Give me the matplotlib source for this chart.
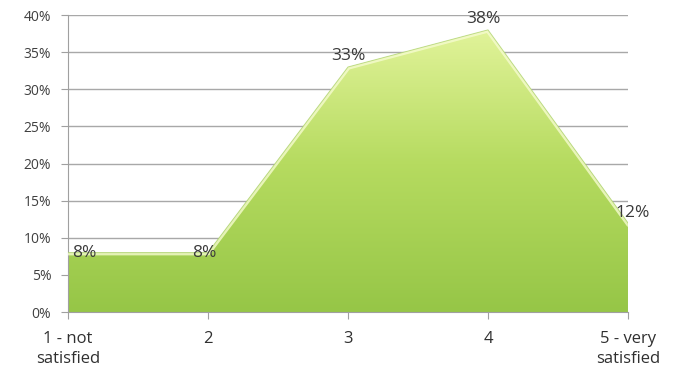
import numpy as np
import matplotlib
matplotlib.use("Agg")
import matplotlib.pyplot as plt
import matplotlib.ticker as mticker
from matplotlib.colors import LinearSegmentedColormap

categories = ["1 - not\nsatisfied", "2", "3", "4", "5 - very\nsatisfied"]
values = [8, 8, 33, 38, 12]
labels = ["8%", "8%", "33%", "38%", "12%"]

plt.rcParams["font.family"] = ["Open Sans", "DejaVu Sans"]

fig = plt.figure(figsize=(6.84, 3.85), dpi=100)
ax = fig.add_axes([0.0994, 0.1896, 0.8187, 0.7714])

x = np.arange(len(values))
poly = ax.fill_between(x, 0, values, color="none", lw=0)

# vertical gradient clipped to the area
cmap = LinearSegmentedColormap.from_list("g", ["#96c647", "#b6db60", "#e6f6a0"])
grad = np.linspace(0, 1, 256).reshape(-1, 1)
img = ax.imshow(grad, cmap=cmap, origin="lower", aspect="auto",
                extent=[0, 4, 0, 40], zorder=2)
img.set_clip_path(poly.get_paths()[0], transform=ax.transData)
hl, = ax.plot(x, values, color="#f6fcd0", lw=4, zorder=3, alpha=0.8)
hl.set_clip_path(poly.get_paths()[0], transform=ax.transData)
ax.plot(x, values, color="#a9cf6a", lw=0.7, zorder=3, alpha=0.7)
ax.plot([4, 4], [0, values[-1]], color="#8fb070", lw=0.8, zorder=3)

ax.set_xlim(0, 4)
ax.set_ylim(0, 40)
ax.yaxis.set_major_locator(mticker.MultipleLocator(5))
ax.yaxis.set_major_formatter(mticker.FuncFormatter(lambda v, p: f"{v:.0f}%"))
ax.set_xticks(x)
ax.set_xticklabels(categories, fontsize=12, color="#303030", linespacing=1.3)
ax.tick_params(axis="y", labelsize=10, labelcolor="#404040", color="#a0a0a0",
               length=5, pad=7)
ax.tick_params(axis="x", color="#a0a0a0", length=5, pad=9)

ax.grid(axis="y", color="#a8a8a8", lw=1)
ax.set_axisbelow(True)
for s in ["top", "right"]:
    ax.spines[s].set_visible(False)
ax.spines["left"].set_color("#a0a0a0")
ax.spines["bottom"].set_color("#a0a0a0")

offsets = [(3, 0), (-3, 0), (0, 8), (-3, 8), (3, 7)]
for i, (v, t) in enumerate(zip(values, labels)):
    ha = "left" if i == 0 else "center"
    ax.annotate(t, (i, v), xytext=offsets[i],
                textcoords="offset points", ha=ha, va="center",
                fontsize=12.5, color="#3a3a3a", zorder=4)

fig.savefig("out.png", dpi=100)
